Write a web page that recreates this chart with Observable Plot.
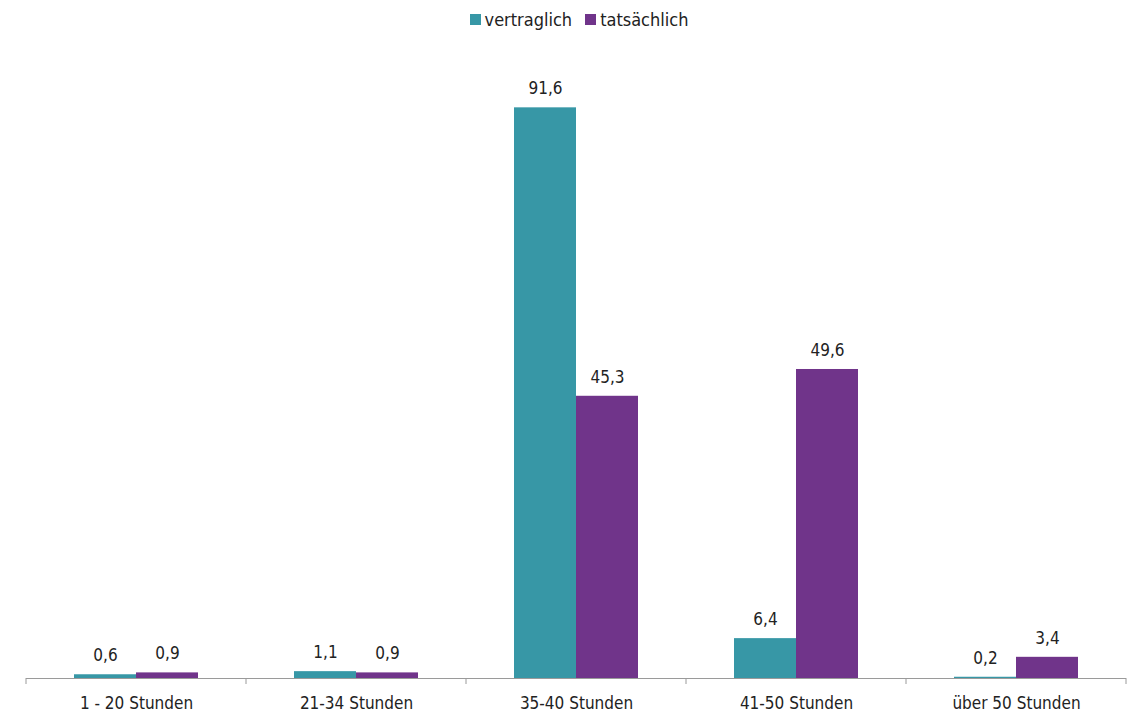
<!DOCTYPE html>
<html>
<head>
<meta charset="utf-8">
<script src="https://cdn.jsdelivr.net/npm/d3@7"></script>
<script src="https://cdn.jsdelivr.net/npm/@observablehq/plot@0.6"></script>
<style>
  body { margin: 0; background: #fff; }
  #wrap { position: relative; width: 1131px; height: 715px; font-family: "Liberation Sans Narrow", "Arial Narrow", "DejaVu Sans Condensed", sans-serif; }
  #legend { position: absolute; top: 9px; left: 0; width: 1131px; display: flex; justify-content: center; gap: 13px; font-size: 18px; color: #222; padding-left: 27px; box-sizing: border-box; }
  #legend span.item { display: flex; align-items: center; gap: 4px; }
  #legend span.sw { display: inline-block; width: 11px; height: 11px; }
  #chart { position: absolute; top: 0; left: 0; }
</style>
</head>
<body>
<div id="wrap"><div id="legend"></div><div id="chart"></div></div>
<script>
const categories = ["1 - 20 Stunden", "21-34 Stunden", "35-40 Stunden", "41-50 Stunden", "über 50 Stunden"];
const seriesNames = ["vertraglich", "tatsächlich"];
const vertraglich = [0.6, 1.1, 91.6, 6.4, 0.2];
const tatsaechlich = [0.9, 0.9, 45.3, 49.6, 3.4];
const colors = ["#3797a6", "#70348a"];

const data = categories.flatMap((c, i) => [
  {category: c, series: seriesNames[0], value: vertraglich[i]},
  {category: c, series: seriesNames[1], value: tatsaechlich[i]}
]);
const fmt = v => d3.format(".1f")(v).replace(".", ",");

const W = 1131, H = 715, mL = 26, mR = 5, mT = 55, mB = 37;
const step = (W - mL - mR) / categories.length;
const barW = step * 62 / 220, outer = step * 48 / 220;
const fontFam = '"Liberation Sans Narrow", "Arial Narrow", "DejaVu Sans Condensed", sans-serif';

function boundaryTicks(index, scales, values, dims) {
  const g = d3.create("svg:g");
  const y0 = dims.height - dims.marginBottom;
  for (let i = 0; i <= categories.length; i++) {
    const x = dims.marginLeft + i * step;
    g.append("line").attr("x1", x).attr("x2", x).attr("y1", y0).attr("y2", y0 + 6)
      .attr("stroke", "#9a9a9a").attr("stroke-width", 1);
  }
  return g.node();
}

const sel = (name) => data.filter(d => d.series === name);

const chart = Plot.plot({
  width: W, height: H,
  marginLeft: mL, marginRight: mR, marginTop: mT, marginBottom: mB,
  style: {fontFamily: fontFam, fontSize: "17px", color: "#222", background: "transparent"},
  x: {domain: categories, padding: 0, label: null},
  y: {domain: [0, 100], axis: null},
  marks: [
    Plot.barY(sel(seriesNames[0]), {x: "category", y: "value", fill: colors[0], insetLeft: outer, insetRight: step - outer - barW}),
    Plot.barY(sel(seriesNames[1]), {x: "category", y: "value", fill: colors[1], insetLeft: outer + barW, insetRight: outer}),
    Plot.text(sel(seriesNames[0]), {x: "category", y: "value", text: d => fmt(d.value), dx: -(barW / 2), dy: -19, fill: "#222", fontSize: 17}),
    Plot.text(sel(seriesNames[1]), {x: "category", y: "value", text: d => fmt(d.value), dx: barW / 2, dy: -19, fill: "#222", fontSize: 17}),
    Plot.ruleY([0], {stroke: "#9a9a9a", strokeWidth: 1}),
    boundaryTicks,
    Plot.axisX({tickSize: 0, tickPadding: 18, fontSize: 17, fill: "#222", label: null})
  ]
});
document.getElementById("chart").appendChild(chart);

const legend = document.getElementById("legend");
seriesNames.forEach((n, i) => {
  const item = document.createElement("span");
  item.className = "item";
  const sw = document.createElement("span");
  sw.className = "sw";
  sw.style.background = colors[i];
  item.appendChild(sw);
  item.appendChild(document.createTextNode(n));
  legend.appendChild(item);
});
</script>
</body>
</html>
